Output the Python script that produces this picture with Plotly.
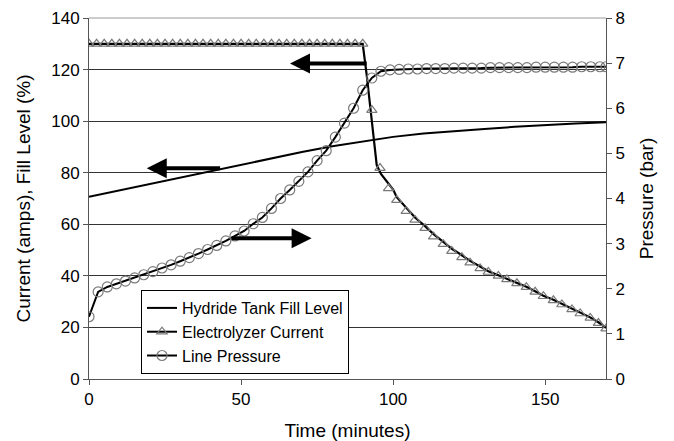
import plotly.graph_objects as go

# ---- data ----
fill_t = [0, 10, 20, 30, 40, 50, 60, 70, 80, 90, 100, 110, 120, 130, 140, 150, 160, 170]
fill_v = [70.7, 73.2, 75.6, 78.1, 80.5, 83.0, 85.5, 88.0, 90.3, 92.2, 93.9, 95.2, 96.2, 97.0, 97.8, 98.5, 99.1, 99.6]

cur_line_t = [0, 90, 91.3, 93.5, 94.6, 96, 98, 100, 101.2, 104.3, 107.2, 110.5, 113.3, 116.5, 119.3,
              122.6, 125.3, 128.6, 131.3, 134.6, 137.4, 140.7, 143.8, 146.7, 149.4, 152.7, 155.5,
              158.8, 161.5, 164.8, 167.5, 170]
cur_line_v = [130, 130, 118, 93, 83, 79.5, 76.5, 73.5, 70.5, 66.2, 62.6, 59.3, 56.2, 53.2, 50.5,
              48.0, 45.8, 43.6, 41.8, 40.2, 38.8, 37.3, 35.8, 34.0, 32.3, 30.7, 29.1,
              27.3, 25.7, 23.9, 22.0, 19.8]

cur_mark_t = [0, 2.5, 5, 7.5, 10, 12.5, 15, 17.5, 20, 22.5, 25, 27.5, 30, 32.5, 35, 37.5, 40, 42.5,
              45, 47.5, 50, 52.5, 55, 57.5, 60, 62.5, 65, 67.5, 70, 72.5, 75, 77.5, 80, 82.5, 85,
              87.5, 90, 93, 95.7, 98.5, 101.2, 104.3, 107.2, 110.5, 113.3, 116.5, 119.3, 122.6,
              125.3, 128.6, 131.3, 134.6, 137.4, 140.7, 143.8, 146.7, 149.4, 152.7, 155.5, 158.8,
              161.5, 164.8, 167.5, 170]
cur_mark_v = [130] * 37 + [104.3, 81.8, 73.9, 69.4, 65.1, 61.7, 58.5, 55.2, 52.3, 49.6, 47.2,
                           45.1, 42.9, 41.5, 40.0, 38.6, 37.1, 35.6, 33.8, 32.1, 30.5, 28.9,
                           27.0, 25.4, 23.7, 21.7, 19.5]

pres_t = [0, 3, 6, 9, 12, 15, 18, 21, 24, 27, 30, 33, 36, 39, 42, 45, 48, 51, 54, 57, 60, 63, 66,
          69, 72, 75, 78, 81, 84, 87, 90, 93, 96, 99, 102, 105, 108, 111, 114, 117, 120, 123, 126,
          129, 132, 135, 138, 141, 144, 147, 150, 153, 156, 159, 162, 165, 168, 170]
pres_v = [1.38, 1.93, 2.04, 2.11, 2.17, 2.24, 2.31, 2.38, 2.46, 2.53, 2.61, 2.69, 2.78, 2.87,
          2.96, 3.06, 3.17, 3.28, 3.44, 3.58, 3.78, 4.00, 4.19, 4.38, 4.59, 4.84, 5.06, 5.36,
          5.67, 6.00, 6.40, 6.67, 6.82, 6.85, 6.86, 6.87, 6.87, 6.88, 6.88, 6.88, 6.89, 6.89,
          6.89, 6.89, 6.90, 6.90, 6.90, 6.90, 6.90, 6.91, 6.91, 6.91, 6.91, 6.91, 6.92, 6.92,
          6.92, 6.92]

# arrows: (head_x, head_y, tail_x, tail_y) in left-axis units
arrows = [(66.1, 122.4, 91.8, 122.4), (19.0, 81.7, 43.6, 81.7), (73.2, 54.6, 46.4, 54.6)]

FONT = "Arial, Liberation Sans, sans-serif"
MARK = "#7a7a7a"

fig = go.Figure()
fig.add_trace(go.Scatter(x=fill_t, y=fill_v, mode="lines", name="Hydride Tank Fill Level",
                         line=dict(color="black", width=2)))
fig.add_trace(go.Scatter(x=cur_line_t, y=cur_line_v, mode="lines", showlegend=False,
                         legendgroup="cur", line=dict(color="black", width=2.2)))
fig.add_trace(go.Scatter(x=cur_mark_t, y=cur_mark_v, mode="markers", showlegend=False,
                         legendgroup="cur",
                         marker=dict(symbol="triangle-up-open", size=9, color=MARK,
                                     line=dict(width=1.2, color=MARK))))
fig.add_trace(go.Scatter(x=[None], y=[None], mode="lines+markers", name="Electrolyzer Current",
                         legendgroup="cur", line=dict(color="black", width=2),
                         marker=dict(symbol="triangle-up-open", size=9, color=MARK,
                                     line=dict(width=1.2, color=MARK))))
fig.add_trace(go.Scatter(x=pres_t, y=pres_v, mode="lines+markers", name="Line Pressure",
                         yaxis="y2", line=dict(color="black", width=2),
                         marker=dict(symbol="circle-open", size=10, color=MARK,
                                     line=dict(width=1.2, color=MARK))))

annotations = []
for hx, hy, tx, ty in arrows:
    annotations.append(dict(x=hx, y=hy, ax=tx, ay=ty, xref="x", yref="y", axref="x", ayref="y",
                            text="", showarrow=True, arrowhead=2, arrowsize=1.0, arrowwidth=4,
                            arrowcolor="black", standoff=0, startstandoff=0))

# page body has an 8px margin, so the figure is sized/offset to compensate
fig.update_layout(
    width=666, height=433,
    margin=dict(l=81, r=68, t=10, b=62),
    paper_bgcolor="white", plot_bgcolor="white",
    font=dict(family=FONT, size=17, color="black"),
    showlegend=True,
    legend=dict(x=0.1006, y=0.2465, xanchor="left", yanchor="top",
                bgcolor="white", bordercolor="black", borderwidth=1,
                font=dict(family=FONT, size=16, color="black"),
                itemwidth=30, tracegroupgap=0),
    xaxis=dict(range=[0, 170], tickvals=[0, 50, 100, 150], showgrid=False, zeroline=False,
               showline=True, linecolor="#555", linewidth=1, ticks="outside", ticklen=5,
               tickcolor="#555", automargin=False,
               title=dict(text="Time (minutes)", font=dict(size=19))),
    yaxis=dict(range=[0, 140], tickvals=[0, 20, 40, 60, 80, 100, 120, 140], showgrid=True,
               gridcolor="#333", gridwidth=1, zeroline=False, automargin=False,
               showline=True, linecolor="#555", linewidth=1, ticks="outside", ticklen=5,
               tickcolor="#555",
               title=dict(text="Current (amps), Fill Level (%)", font=dict(size=19))),
    yaxis2=dict(range=[0, 8], tickvals=[0, 1, 2, 3, 4, 5, 6, 7, 8], overlaying="y", side="right",
                showgrid=False, zeroline=False, showline=True, linecolor="#555", linewidth=1,
                ticks="outside", ticklen=5, tickcolor="#555", automargin=False,
                title=dict(text="Pressure (bar)", font=dict(size=19))),
    annotations=annotations,
    shapes=[dict(type="line", xref="paper", yref="paper", x0=0, x1=1, y0=1, y1=1,
                 line=dict(color="#bbbbbb", width=1.5), layer="above")],
)

fig.write_html("out.html")
